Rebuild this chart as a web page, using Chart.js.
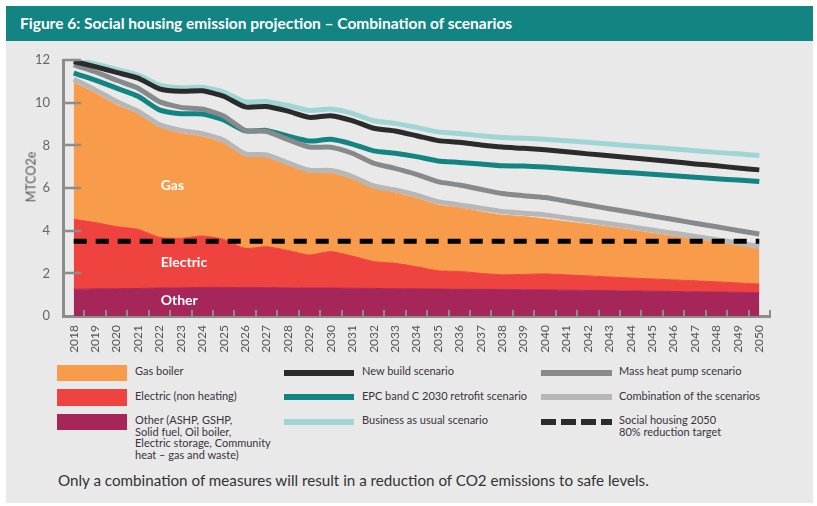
<!DOCTYPE html>
<html lang="en">
<head>
<meta charset="utf-8">
<title>Figure 6: Social housing emission projection</title>
<script src="https://cdn.jsdelivr.net/npm/chart.js@4.4.1/dist/chart.umd.min.js"></script>
<style>
  html, body { margin: 0; padding: 0; background: #fff; }
  body { width: 817px; height: 506px; position: relative; overflow: hidden; font-family: Lato, "Open Sans", sans-serif; color: #3a3340; }
  #panel { position: absolute; left: 6px; top: 6px; width: 807px; height: 497px; background: #e9e9e9; }
  #header { position: absolute; left: 6px; top: 6px; width: 807px; height: 35px; background: #128582; color: #fff; font-weight: bold; font-size: 15.5px; line-height: 34px; }
  #header span { margin-left: 14px; }
  #chart-box { position: absolute; left: 0; top: 0; width: 817px; height: 360px; }
  #ytitle { position: absolute; left: 31px; top: 177px; transform: translate(-50%, -50%) rotate(-90deg); font-size: 12.5px; color: #555; white-space: nowrap; }
  .sw { position: absolute; }
  .lt { position: absolute; font-size: 11px; line-height: 11.7px; color: #3a3340; white-space: nowrap; }
  #caption { position: absolute; left: 58px; top: 471px; font-size: 15.2px; color: #333; white-space: nowrap; }
</style>
</head>
<body>
<div id="panel"></div>
<div id="header"><span>Figure 6: Social housing emission projection – Combination of scenarios</span></div>
<div id="chart-box"><canvas id="grafica"></canvas></div>
<div id="ytitle">MTCO2e</div>

<!-- leyenda -->
<div class="sw" style="left:57px;top:365px;width:70px;height:16px;background:#f89c4c"></div>
<div class="lt" style="left:135px;top:365px">Gas boiler</div>
<div class="sw" style="left:57px;top:389px;width:70px;height:17px;background:#ee433f"></div>
<div class="lt" style="left:135px;top:390px">Electric (non heating)</div>
<div class="sw" style="left:57px;top:414px;width:70px;height:16px;background:#a6265a"></div>
<div class="lt" style="left:135px;top:414px">Other (ASHP, GSHP,<br>Solid fuel, Oil boiler,<br>Electric storage, Community<br>heat – gas and waste)</div>

<div class="sw" style="left:284px;top:370px;width:70px;height:6px;background:#2b2b2b"></div>
<div class="lt" style="left:362px;top:365px">New build scenario</div>
<div class="sw" style="left:284px;top:394px;width:70px;height:6px;background:#128582"></div>
<div class="lt" style="left:362px;top:390px">EPC band C 2030 retrofit scenario</div>
<div class="sw" style="left:284px;top:419px;width:70px;height:6px;background:#9fd6d5"></div>
<div class="lt" style="left:362px;top:414px">Business as usual scenario</div>

<div class="sw" style="left:541px;top:370px;width:71px;height:6px;background:#87898b"></div>
<div class="lt" style="left:619px;top:365px">Mass heat pump scenario</div>
<div class="sw" style="left:541px;top:394px;width:71px;height:6px;background:#b7b7b7"></div>
<div class="lt" style="left:619px;top:390px">Combination of the scenarios</div>
<div class="sw" style="left:541px;top:419px;width:71px;height:6px;background:repeating-linear-gradient(to right,#2b2b2b 0 15px,transparent 15px 20px)"></div>
<div class="lt" style="left:619px;top:414px">Social housing 2050<br>80% reduction target</div>

<div id="caption">Only a combination of measures will result in a reduction of CO2 emissions to safe levels.</div>

<script>
// ==========================================
// 1. DATOS (MTCO2e por año)
// ==========================================
const years = ["2018","2019","2020","2021","2022","2023","2024","2025","2026","2027","2028",
  "2029","2030","2031","2032","2033","2034","2035","2036","2037","2038","2039","2040",
  "2041","2042","2043","2044","2045","2046","2047","2048","2049","2050"];

// áreas apiladas
const otherValues = [1.25,1.27,1.28,1.29,1.31,1.32,1.34,1.34,1.33,1.33,1.32,
  1.31,1.31,1.30,1.29,1.28,1.27,1.26,1.25,1.25,1.24,1.23,1.22,
  1.21,1.20,1.19,1.17,1.16,1.15,1.13,1.12,1.11,1.09];
const electricValues = [3.28,3.11,2.91,2.77,2.38,2.32,2.41,2.25,1.84,1.92,1.75,
  1.55,1.71,1.51,1.26,1.19,1.04,0.86,0.84,0.75,0.69,0.72,0.75,
  0.72,0.68,0.64,0.61,0.58,0.54,0.52,0.48,0.44,0.41];
const gasValues = [6.41,6.06,5.70,5.41,5.16,4.92,4.66,4.51,4.33,4.19,3.98,
  3.86,3.67,3.60,3.43,3.31,3.21,3.08,2.99,2.89,2.80,2.71,2.58,
  2.49,2.42,2.34,2.25,2.14,2.05,1.95,1.85,1.75,1.65];

// escenarios
const businessAsUsual = [12.05,11.82,11.56,11.30,10.82,10.70,10.72,10.50,10.04,10.06,9.87,
  9.63,9.70,9.50,9.15,9.03,8.84,8.63,8.56,8.45,8.37,8.33,8.29,
  8.21,8.14,8.06,7.98,7.91,7.83,7.75,7.67,7.60,7.52];
const newBuild = [11.93,11.69,11.42,11.15,10.65,10.53,10.56,10.30,9.80,9.82,9.60,
  9.31,9.39,9.16,8.80,8.67,8.45,8.22,8.14,8.02,7.92,7.86,7.79,
  7.70,7.60,7.51,7.42,7.32,7.23,7.13,7.04,6.94,6.85];
const epcBandC = [11.38,11.06,10.68,10.30,9.66,9.48,9.47,9.19,8.68,8.70,8.43,
  8.20,8.28,8.06,7.74,7.63,7.47,7.27,7.20,7.12,7.04,7.03,6.98,
  6.91,6.84,6.77,6.71,6.64,6.57,6.50,6.43,6.37,6.30];
const massHeatPump = [11.77,11.45,11.05,10.68,10.05,9.78,9.70,9.38,8.70,8.65,8.27,
  7.92,7.91,7.63,7.16,6.92,6.64,6.30,6.14,5.94,5.74,5.64,5.55,
  5.38,5.20,5.03,4.86,4.69,4.52,4.35,4.18,4.01,3.84];
const combination = [11.10,10.60,10.05,9.60,8.97,8.70,8.55,8.24,7.60,7.55,7.18,
  6.83,6.82,6.54,6.10,5.91,5.67,5.36,5.21,5.05,4.90,4.82,4.74,
  4.60,4.46,4.32,4.18,4.03,3.88,3.73,3.58,3.42,3.27];

const target2050 = 3.5;
const yTicks = [0, 2, 4, 6, 8, 10, 12];

// ==========================================
// 2. PLUGINS (marcas de eje y etiquetas)
// ==========================================
const marcasEje = {
  id: 'marcasEje',
  afterDatasetsDraw(chart) {
    const { ctx, chartArea, scales: { x, y } } = chart;
    ctx.save();
    ctx.strokeStyle = '#8c8c8c';
    ctx.lineWidth = 2.5;
    ctx.beginPath();
    yTicks.forEach(v => {
      if (v === 0) return;
      const py = Math.round(y.getPixelForValue(v));
      ctx.moveTo(chartArea.left, py);
      ctx.lineTo(chartArea.left + 18, py);
    });
    ctx.stroke();
    ctx.lineWidth = 2;
    ctx.beginPath();
    years.forEach((_, i) => {
      const px = Math.round(x.getPixelForValue(i + 0.5));
      ctx.moveTo(px, chartArea.bottom);
      ctx.lineTo(px, chartArea.bottom - 6);
    });
    ctx.stroke();
    ctx.restore();
  }
};

const etiquetasArea = {
  id: 'etiquetasArea',
  afterDatasetsDraw(chart) {
    const { ctx, scales: { x, y } } = chart;
    const px = x.getPixelForValue(4.06);
    ctx.save();
    ctx.fillStyle = '#fff';
    ctx.font = 'bold 14px Lato, sans-serif';
    ctx.textAlign = 'left';
    ctx.textBaseline = 'middle';
    ctx.fillText('Gas', px, y.getPixelForValue(6.14));
    ctx.fillText('Electric', px, y.getPixelForValue(2.53));
    ctx.fillText('Other', px, y.getPixelForValue(0.75));
    ctx.restore();
  }
};

// ==========================================
// 3. GRÁFICA
// ==========================================
function linea(label, data, color, order) {
  return { label, data, borderColor: color, borderWidth: 5, pointRadius: 0,
    tension: 0.2, fill: false, stack: label, order, borderJoinStyle: 'round' };
}

function area(label, data, color, fill) {
  return { label, data, backgroundColor: color, borderColor: color, borderWidth: 1,
    pointRadius: 0, tension: 0.2, fill, stack: 'areas', order: 10 };
}

const ctx = document.getElementById('grafica').getContext('2d');
new Chart(ctx, {
  type: 'line',
  data: {
    labels: years,
    datasets: [
      area('Other', otherValues, '#a6265a', 'origin'),
      area('Electric (non heating)', electricValues, '#ee433f', '-1'),
      area('Gas boiler', gasValues, '#f89c4c', '-1'),
      linea('Combination of the scenarios', combination, '#b7b7b7', 5),
      linea('EPC band C 2030 retrofit scenario', epcBandC, '#128582', 4),
      linea('Mass heat pump scenario', massHeatPump, '#87898b', 3),
      linea('Business as usual scenario', businessAsUsual, '#9fd6d5', 2),
      linea('New build scenario', newBuild, '#2b2b2b', 1),
      Object.assign(linea('Social housing 2050 80% reduction target',
        years.map(() => target2050), '#000', 0), { borderDash: [13, 9], tension: 0 })
    ]
  },
  options: {
    responsive: true,
    maintainAspectRatio: false,
    animation: false,
    layout: { padding: { left: 0, right: 47, top: 60, bottom: 0 } },
    plugins: { legend: { display: false }, tooltip: { enabled: false } },
    scales: {
      x: {
        type: 'category',
        offset: true,
        grid: { display: false, offset: true, drawTicks: false },
        border: { display: true, color: '#8c8c8c', width: 3 },
        ticks: { color: '#555', font: { family: 'Lato', size: 12 }, minRotation: 90, maxRotation: 90, padding: 9, autoSkip: false },
        afterFit: s => { s.height = 44; }
      },
      y: {
        stacked: true,
        min: 0,
        max: 12,
        grid: { display: false, drawTicks: false },
        border: { display: true, color: '#8c8c8c', width: 3 },
        ticks: { color: '#666', font: { family: 'Lato', size: 13 }, padding: 13 },
        afterBuildTicks: s => { s.ticks = yTicks.map(v => ({ value: v })); },
        afterFit: s => { s.width = 63; }
      }
    }
  },
  plugins: [marcasEje, etiquetasArea]
});
</script>
</body>
</html>
